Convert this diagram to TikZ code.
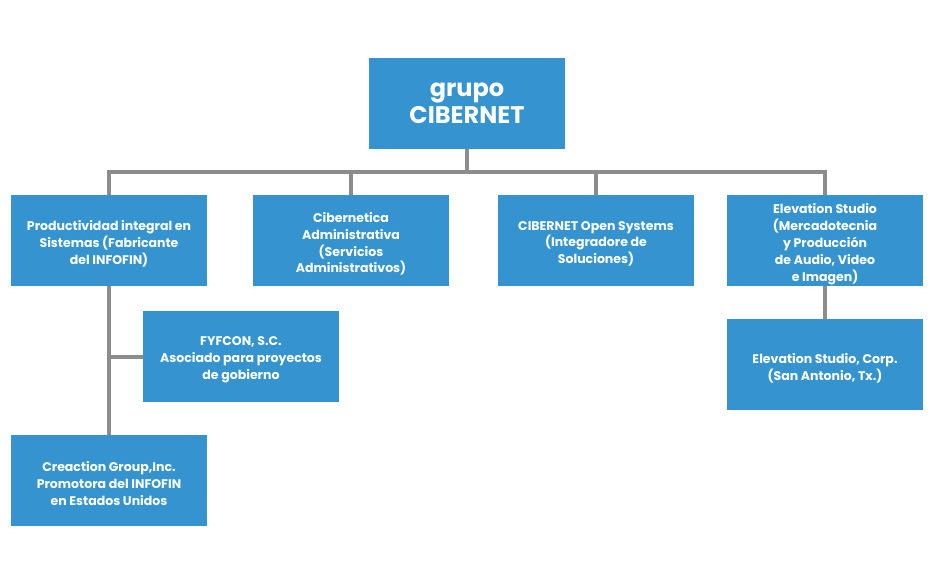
\documentclass[tikz,border=0pt]{standalone}
\usepackage{fontspec}
\setmainfont{Poppins}
\usepackage{xcolor}
\definecolor{boxblue}{RGB}{53,148,207}
\definecolor{linegray}{RGB}{140,140,140}

\begin{document}
\begin{tikzpicture}[x=0.75pt,y=0.75pt,yscale=-1,xscale=1,
  unit/.style={fill=boxblue, inner sep=0pt, minimum width=147pt, minimum height=68.25pt},
  lbl/.style={yshift=-2.5pt, align=center, text=white, font=\fontsize{9.4}{12.7}\selectfont\bfseries},
  conn/.style={draw=linegray, line width=3pt}]
  \useasboundingbox (0,0) rectangle (934,585);

  % Head Node
  \node [unit, text=white, align=center, font=\fontsize{18}{20.5}\selectfont\bfseries] (grupo) at (467,103.5) {grupo\\CIBERNET};
  % Level one
  \node [unit] (prod) at (109,240.5) {};
  \node [lbl] at (prod) {Productividad integral en\\Sistemas (Fabricante\\del INFOFIN)};
  \node [unit] (ciber) at (351,240.5) {};
  \node [lbl] at (ciber) {Cibernetica\\Administrativa\\(Servicios\\Administrativos)};
  \node [unit] (open) at (596,240.5) {};
  \node [lbl] at (open) {CIBERNET Open Systems\\(Integradore de\\Soluciones)};
  \node [unit] (elev) at (825,240.5) {};
  \node [lbl] at (elev) {Elevation Studio\\(Mercadotecnia\\y Producción\\de Audio, Video\\e Imagen)};
  % Level two
  \node [unit] (fyf) at (241,356.5) {};
  \node [lbl] at (fyf) {FYFCON, S.C.\\Asociado para proyectos\\de gobierno};
  \node [unit] (creac) at (109,480.5) {};
  \node [lbl] at (creac) {Creaction Group,Inc.\\Promotora del INFOFIN\\en Estados Unidos};
  \node [unit] (corp) at (825,364.5) {};
  \node [lbl] at (corp) {Elevation Studio, Corp.\\(San Antonio, Tx.)};

  % Connectors
  \coordinate (bus) at (467,172);
  \draw [conn] (grupo.south) -- (bus);
  \draw [conn] (prod.north) |- (elev.north |- bus) -- (elev.north);
  \draw [conn] (ciber.north) -- (ciber.north |- bus);
  \draw [conn] (open.north) -- (open.north |- bus);
  \draw [conn] (prod.south) -- (creac.north);
  \draw [conn] (fyf.west) -- (fyf.west -| prod.south);
  \draw [conn] (elev.south) -- (corp.north);
\end{tikzpicture}
\end{document}
